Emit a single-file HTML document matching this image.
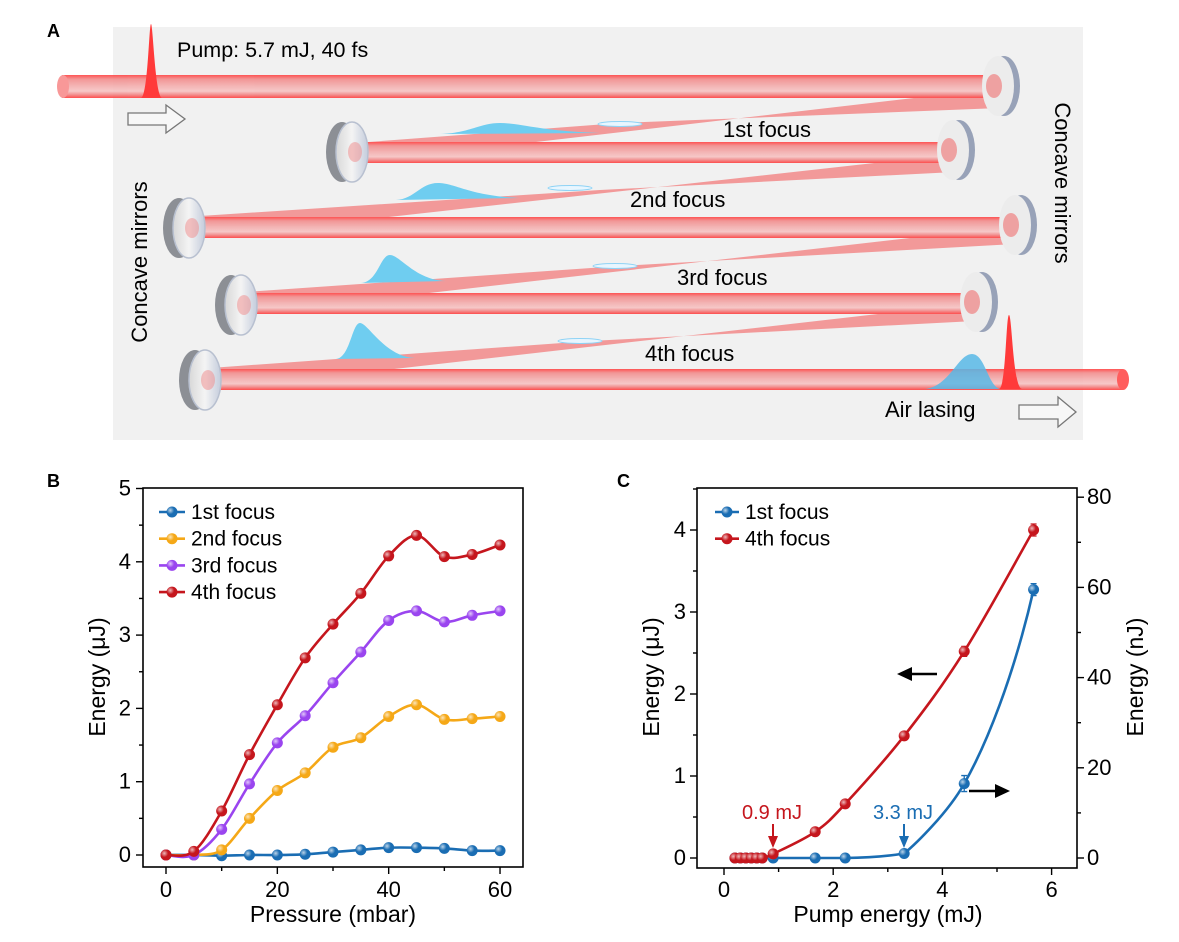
<!DOCTYPE html>
<html><head><meta charset="utf-8"><style>
html,body{margin:0;padding:0;background:#fff;}
svg{display:block;font-family:"Liberation Sans",Arial,sans-serif;}
</style></head><body>
<svg id="s" width="1179" height="942" viewBox="0 0 1179 942" xmlns="http://www.w3.org/2000/svg">
<defs>
<linearGradient id="bm" x1="0" y1="0" x2="0" y2="1">
<stop offset="0" stop-color="#ff4646"/><stop offset="0.18" stop-color="#f28e8e"/><stop offset="0.5" stop-color="#f4b2b2"/><stop offset="0.7" stop-color="#f7c4c4"/><stop offset="0.85" stop-color="#f28a8a"/><stop offset="1" stop-color="#ff4040"/>
</linearGradient>
<linearGradient id="mf" x1="0" y1="0" x2="1" y2="0"><stop offset="0" stop-color="#d8d8d8"/><stop offset="0.5" stop-color="#f4f4f4"/><stop offset="1" stop-color="#c4ccdc"/></linearGradient>
<radialGradient id="mk" cx="0.35" cy="0.35" r="0.7"><stop offset="0" stop-color="#fff" stop-opacity="0.7"/><stop offset="0.5" stop-color="#fff" stop-opacity="0"/></radialGradient>
</defs>
<rect x="113" y="27" width="970" height="413" fill="#f1f1f1"/>
<text x="47" y="37" font-size="18" font-weight="bold">A</text>
<text x="47" y="487" font-size="18" font-weight="bold">B</text>
<text x="617" y="487" font-size="18" font-weight="bold">C</text>
<g opacity="0.92">
<polygon points="1000,88 1000,108 620,123 355,143 355,163" fill="#f26a6a" opacity="0.7"/>
<polygon points="955,154 955,172 600,190 200,216 200,238" fill="#f26a6a" opacity="0.7"/>
<polygon points="1015,226 1015,244 620,266 245,292 245,314" fill="#f26a6a" opacity="0.7"/>
<polygon points="975,303 975,321 590,341 210,368 210,390" fill="#f26a6a" opacity="0.7"/>
<rect x="62" y="75" width="940" height="23" fill="url(#bm)"/>
<ellipse cx="63" cy="86.5" rx="6" ry="11.5" fill="#f89090"/>
<rect x="355" y="142" width="600" height="21" fill="url(#bm)"/>
<rect x="195" y="217" width="822" height="21" fill="url(#bm)"/>
<rect x="245" y="293" width="735" height="21" fill="url(#bm)"/>
<rect x="210" y="369" width="913" height="21" fill="url(#bm)"/>
<ellipse cx="1123" cy="379.5" rx="6" ry="10.5" fill="#ff5050"/>
</g>
<ellipse cx="620" cy="124" rx="22" ry="2.5" fill="#e8f6ff" stroke="#8fd3f5" stroke-width="1"/>
<ellipse cx="570" cy="188" rx="22" ry="2.5" fill="#e8f6ff" stroke="#8fd3f5" stroke-width="1"/>
<ellipse cx="615" cy="266" rx="22" ry="2.5" fill="#e8f6ff" stroke="#8fd3f5" stroke-width="1"/>
<ellipse cx="580" cy="341" rx="22" ry="2.5" fill="#e8f6ff" stroke="#8fd3f5" stroke-width="1"/>
<path d="M440,134 C470,133 480,123 500,123 C520,123 540,131 600,133 Z" fill="#6fcdf0"/>
<path d="M396,200 C415,199 420,183 438,183 C455,183 470,196 520,198 Z" fill="#6fcdf0"/>
<path d="M361,283 C378,282 380,255 390,255 C400,255 415,280 446,281 Z" fill="#6fcdf0"/>
<path d="M336,359 C350,358 352,323 360,323 C368,323 385,357 415,358 Z" fill="#6fcdf0"/>
<path d="M925,389 C950,386 958,354 972,354 C985,354 988,386 1000,389 Z" fill="#58b8e6" opacity="0.85"/>
<path d="M999,389 C1006,388 1006,315 1009,315 C1012,315 1013,388 1022,389 Z" fill="#ff3a3a"/>
<path d="M141,98 C148,96 149,24 151,24 C153,24 155,96 162,98 Z" fill="#ff3a3a"/>
<g id="mirrors"></g>
<path d="M128,113 H166 V105 L185,119 L166,133 V125 H128 Z" fill="#f7f7f7" stroke="#777" stroke-width="1.3"/>
<path d="M1019,405 H1058 V397 L1076,412 L1058,427 V419 H1019 Z" fill="#f7f7f7" stroke="#777" stroke-width="1.3"/>
<g font-size="22" fill="#000">
<text x="177" y="57" font-size="21.5">Pump: 5.7 mJ, 40 fs</text>
<text x="723" y="137">1st focus</text>
<text x="630" y="207">2nd focus</text>
<text x="677" y="285">3rd focus</text>
<text x="645" y="361">4th focus</text>
<text x="885" y="417">Air lasing</text>
<text transform="translate(147,262) rotate(-90)" text-anchor="middle">Concave mirrors</text>
<text transform="translate(1055,183) rotate(90)" text-anchor="middle">Concave mirrors</text>
</g>
<g id="plots"></g>
</svg>
<script>
var NS="http://www.w3.org/2000/svg";
function el(tag,attrs,parent,txt){var e=document.createElementNS(NS,tag);for(var k in attrs)e.setAttribute(k,attrs[k]);if(txt!==undefined)e.textContent=txt;(parent||document.getElementById('plots')).appendChild(e);return e;}
var M=document.getElementById('mirrors');
function mirror(cx,cy,left){
 var rx=16,ry=30;
 if(left){
  el('ellipse',{cx:cx-5,cy:cy,rx:rx,ry:ry,fill:'#8c8f95'},M);
  el('ellipse',{cx:cx+5,cy:cy,rx:rx,ry:ry,fill:'url(#mf)',stroke:'#b8c0d0','stroke-width':1.5},M);
  el('ellipse',{cx:cx+8,cy:cy,rx:7,ry:10,fill:'#f08a8a',opacity:0.5},M);
 } else {
  el('ellipse',{cx:cx+4,cy:cy,rx:rx,ry:ry,fill:'#98a2b8'},M);
  el('ellipse',{cx:cx-2,cy:cy,rx:rx,ry:ry,fill:'#ececec'},M);
  el('ellipse',{cx:cx-6,cy:cy,rx:8,ry:12,fill:'#f07070',opacity:0.6},M);
 }
}
mirror(1000,86,false);mirror(347,152,true);mirror(955,150,false);mirror(184,228,true);
mirror(1017,225,false);mirror(236,305,true);mirror(978,302,false);mirror(200,380,true);
function cr(p){var d='M'+p[0][0].toFixed(1)+','+p[0][1].toFixed(1);
 for(var i=0;i<p.length-1;i++){var p0=p[i-1]||p[i],p1=p[i],p2=p[i+1],p3=p[i+2]||p2;
 var c1=[p1[0]+(p2[0]-p0[0])/6,p1[1]+(p2[1]-p0[1])/6],c2=[p2[0]-(p3[0]-p1[0])/6,p2[1]-(p3[1]-p1[1])/6];
 d+=' C'+c1[0].toFixed(1)+','+c1[1].toFixed(1)+' '+c2[0].toFixed(1)+','+c2[1].toFixed(1)+' '+p2[0].toFixed(1)+','+p2[1].toFixed(1);}
 return d;}
function marker(x,y,c){el('circle',{cx:x,cy:y,r:5.5,fill:c});el('circle',{cx:x,cy:y,r:5.5,fill:'url(#mk)'});}
function series(pts,c,errs,path){el('path',{d:path||cr(pts),fill:'none',stroke:c,'stroke-width':2.6});
 pts.forEach(function(p,i){if(errs&&errs[i]){el('path',{d:'M'+p[0]+','+(p[1]-errs[i])+'V'+(p[1]+errs[i])+'M'+(p[0]-3)+','+(p[1]-errs[i])+'h6M'+(p[0]-3)+','+(p[1]+errs[i])+'h6',stroke:c,'stroke-width':1.3,fill:'none'});}marker(p[0],p[1],c);});}
var BL='#1a6db3',OR='#f5a817',PU='#9a45ef',RD='#c5161d';
(function(){
 var X=function(v){return 166+v*5.567},Y=function(v){return 855-v*73.3};
 var d={};
 d[BL]=[0,0,-0.01,0,0,0.01,0.04,0.07,0.1,0.1,0.09,0.06,0.06];
 d[OR]=[0,0,0.07,0.5,0.88,1.12,1.47,1.6,1.89,2.05,1.85,1.86,1.89];
 d[PU]=[0,0,0.35,0.97,1.53,1.9,2.35,2.77,3.2,3.33,3.18,3.27,3.33];
 d[RD]=[0,0.05,0.6,1.37,2.05,2.69,3.15,3.57,4.08,4.36,4.07,4.1,4.23];
 [BL,OR,PU,RD].forEach(function(c){series(d[c].map(function(v,i){return [X(i*5),Y(v)]}),c);});
 el('rect',{x:143,y:488,width:380,height:379,fill:'none',stroke:'#000','stroke-width':1.6});
 for(var v=0;v<=5;v+=0.5){var y=Y(v);el('line',{x1:143,x2:v%1==0?136:139,y1:y,y2:y,stroke:'#000','stroke-width':1.4});
  if(v%1==0)el('text',{x:131,y:y+7,'font-size':22,'text-anchor':'end'},null,String(v));}
 for(var v=0;v<=60;v+=10){var x=X(v);el('line',{x1:x,x2:x,y1:867,y2:v%20==0?874:871,stroke:'#000','stroke-width':1.4});
  if(v%20==0)el('text',{x:x,y:897,'font-size':22,'text-anchor':'middle'},null,String(v));}
 el('text',{x:333,y:922,'font-size':23,'text-anchor':'middle'},null,'Pressure (mbar)');
 el('text',{transform:'translate(105,677) rotate(-90)','font-size':23,'text-anchor':'middle'},null,'Energy (μJ)');
 var L=[['1st focus',BL],['2nd focus',OR],['3rd focus',PU],['4th focus',RD]];
 L.forEach(function(l,i){var y=512+i*26.7;el('line',{x1:159,x2:185,y1:y,y2:y,stroke:l[1],'stroke-width':2.6});marker(172,y,l[1]);
  el('text',{x:191,y:y+7,'font-size':21},null,l[0]);});
})();
(function(){
 var X=function(v){return 724+v*54.6},Y=function(v){return 858-v*82},YR=function(v){return 858-v*4.51};
 var bx=[0.2,0.3,0.4,0.5,0.6,0.7,0.9,1.67,2.22,3.3,4.4,5.67],by=[0,0,0,0,0,0,0,0,0,1,16.5,59.5];
 var bp=bx.map(function(x,i){return [X(x),YR(by[i])]});
 var bpath='M'+bp[0][0]+','+bp[0][1]+' L'+bp[8][0]+','+bp[8][1]+' C'+X(2.7)+','+YR(0.1)+' '+X(3.0)+','+YR(0.4)+' '+bp[9][0]+','+bp[9][1]+
  ' C'+X(3.5)+','+YR(3)+' '+X(4.1)+','+YR(10)+' '+bp[10][0]+','+bp[10][1]+' C'+X(4.8)+','+YR(25)+' '+X(5.3)+','+YR(40)+' '+bp[11][0]+','+bp[11][1];
 series(bp,BL,[0,0,0,0,0,0,0,0,0,0,8,6],bpath);
 var rx=[0.2,0.3,0.4,0.5,0.6,0.7,0.9,1.67,2.22,3.3,4.4,5.67],ry=[0,0,0,0,0,0,0.05,0.32,0.66,1.49,2.52,4.0];
 series(rx.map(function(x,i){return [X(x),Y(ry[i])]}),RD,[0,0,0,0,0,0,0,0,0,0,5,6]);
 el('rect',{x:697,y:488,width:380,height:380,fill:'none',stroke:'#000','stroke-width':1.6});
 for(var v=0;v<=4.5;v+=0.5){var y=Y(v);el('line',{x1:697,x2:v%1==0?690:693,y1:y,y2:y,stroke:'#000','stroke-width':1.4});
  if(v%1==0&&v<=4)el('text',{x:686,y:y+7,'font-size':22,'text-anchor':'end'},null,String(v));}
 for(var v=0;v<=80;v+=10){var y=YR(v);el('line',{x1:1077,x2:v%20==0?1084:1081,y1:y,y2:y,stroke:'#000','stroke-width':1.4});
  if(v%20==0)el('text',{x:1087,y:y+7,'font-size':22},null,String(v));}
 for(var v=0;v<=6;v+=1){var x=X(v);el('line',{x1:x,x2:x,y1:868,y2:v%2==0?875:872,stroke:'#000','stroke-width':1.4});
  if(v%2==0)el('text',{x:x,y:897,'font-size':22,'text-anchor':'middle'},null,String(v));}
 el('text',{x:888,y:922,'font-size':23,'text-anchor':'middle'},null,'Pump energy (mJ)');
 el('text',{transform:'translate(659,677) rotate(-90)','font-size':23,'text-anchor':'middle'},null,'Energy (μJ)');
 el('text',{transform:'translate(1143,677) rotate(-90)','font-size':23,'text-anchor':'middle'},null,'Energy (nJ)');
 [['1st focus',BL],['4th focus',RD]].forEach(function(l,i){var y=512+i*26.7;el('line',{x1:715,x2:739,y1:y,y2:y,stroke:l[1],'stroke-width':2.6});marker(727,y,l[1]);
  el('text',{x:745,y:y+7,'font-size':21},null,l[0]);});
 el('text',{x:742,y:819,'font-size':20,fill:RD},null,'0.9 mJ');
 el('text',{x:873,y:819,'font-size':20,fill:BL},null,'3.3 mJ');
 el('path',{d:'M773,824V838',stroke:RD,'stroke-width':2});el('path',{d:'M768,836L773,848L778,836Z',fill:RD});
 el('path',{d:'M904,824V838',stroke:BL,'stroke-width':2});el('path',{d:'M899,836L904,848L909,836Z',fill:BL});
 el('path',{d:'M937,674H910',stroke:'#000','stroke-width':2.5});el('path',{d:'M912,667L897,674L912,681Z',fill:'#000'});
 el('path',{d:'M969,791H996',stroke:'#000','stroke-width':2.5});el('path',{d:'M995,784L1010,791L995,798Z',fill:'#000'});
})();
</script>
</body></html>
